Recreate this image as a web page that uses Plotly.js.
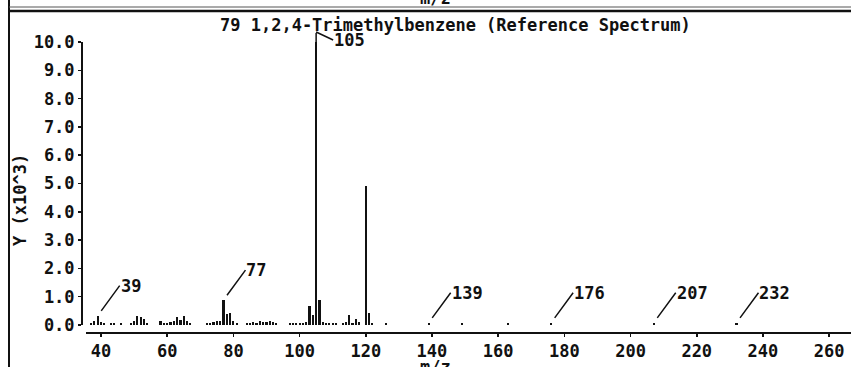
<!DOCTYPE html>
<html>
<head>
<meta charset="utf-8">
<script src="https://cdn.plot.ly/plotly-3.0.1.min.js"></script>
<style>html,body{margin:0;padding:0;background:#fff;}#chart{width:851px;height:367px;}</style>
</head>
<body>
<div id="chart"></div>
<script>
// m/z values of the peaks
const mz = [37,38,39,40,41,43,44,46,
  49,50,51,52,53,54,
  58,59,60,61,62,63,64,65,66,67,
  72,73,74,75,76,77,78,79,80,81,
  84,85,86,87,88,89,90,91,92,93,
  97,98,99,100,101,102,103,104,105,106,107,108,109,110,111,
  113,114,115,116,117,118,120,121,122,126,
  139,149,163,176,207,232];
// abundance (x10^3)
const abundance = [0.08,0.15,0.33,0.12,0.08,0.08,0.08,0.08,
  0.08,0.15,0.32,0.27,0.2,0.08,
  0.15,0.08,0.08,0.12,0.15,0.27,0.18,0.33,0.15,0.08,
  0.08,0.08,0.1,0.15,0.13,0.88,0.38,0.42,0.15,0.08,
  0.08,0.08,0.12,0.08,0.13,0.1,0.1,0.15,0.1,0.08,
  0.08,0.08,0.08,0.08,0.08,0.12,0.68,0.36,10.0,0.87,0.1,0.08,0.08,0.08,0.08,
  0.08,0.1,0.35,0.08,0.22,0.12,4.9,0.42,0.08,0.08,
  0.08,0.08,0.08,0.08,0.08,0.08];
// labelled peaks
const labelledMz = [39,77,139,176,207,232];
const basePeakMz = 105;
const yTickVals = [0,1,2,3,4,5,6,7,8,9,10];
const xTickVals = [40,60,80,100,120,140,160,180,200,220,240,260];
const titleText = "79 1,2,4-Trimethylbenzene (Reference Spectrum)";
const yTitle = "Y (x10^3)";
const xTitle = "m/z";

const FONT = {family: "'DejaVu Sans Mono', monospace", size: 17, color: '#111', weight: 'bold'};
const W = 851, H = 367, ML = 82, MR = 0, MT = 42, MB = 34;
const PW = W - ML - MR, PH = H - MT - MB;
const px = v => (v - ML) / PW;            // pixel x -> paper x
const py = v => 1 - (v - MT) / PH;        // pixel y -> paper y
const valueOf = m => abundance[mz.indexOf(m)];

const annotations = labelledMz.map(m => ({
  x: m, y: valueOf(m), xref: 'x', yref: 'y',
  text: String(m), showarrow: true, arrowhead: 0, arrowwidth: 1.5, arrowcolor: '#111',
  ax: 22, ay: -30, standoff: 6, xanchor: 'left', yanchor: 'middle',
  font: FONT, borderpad: 0
}));
// base peak leader: short vertical stub, then diagonal down to the label
annotations.push({
  x: basePeakMz, y: valueOf(basePeakMz), xref: 'x', yref: 'y', text: ' ',
  showarrow: true, arrowhead: 0, arrowwidth: 1.5, arrowcolor: '#111',
  ax: 0, ay: -10, standoff: 0, font: {size: 1}, borderpad: 0
});
annotations.push({
  x: basePeakMz, y: valueOf(basePeakMz), xref: 'x', yref: 'y', text: String(basePeakMz),
  showarrow: true, arrowhead: 0, arrowwidth: 1.5, arrowcolor: '#111',
  ax: 17, ay: 8, yshift: 10, standoff: 0, xanchor: 'left', yanchor: 'middle', font: FONT, borderpad: 0
});
annotations.push({x: px(455), y: py(25), xref: 'paper', yref: 'paper', text: titleText,
  showarrow: false, xanchor: 'center', yanchor: 'middle', font: FONT});
annotations.push({x: px(20), y: py(200), xref: 'paper', yref: 'paper', text: yTitle, textangle: -90,
  showarrow: false, xanchor: 'center', yanchor: 'middle', font: FONT});
annotations.push({x: px(435), y: py(367), xref: 'paper', yref: 'paper', text: xTitle,
  showarrow: false, xanchor: 'center', yanchor: 'middle', font: FONT});
annotations.push({x: px(435), y: py(-2), xref: 'paper', yref: 'paper', text: xTitle,
  showarrow: false, xanchor: 'center', yanchor: 'middle', font: FONT});

const shapes = [
  {type: 'line', xref: 'paper', yref: 'paper', x0: px(9), x1: px(9), y0: py(-5), y1: py(372), line: {color: '#111', width: 2}},
  {type: 'line', xref: 'paper', yref: 'paper', x0: px(9), x1: px(852), y0: py(7), y1: py(7), line: {color: '#555', width: 1}},
  {type: 'line', xref: 'paper', yref: 'paper', x0: px(9), x1: px(852), y0: py(11), y1: py(11), line: {color: '#111', width: 2.5}}
];

const data = [{
  type: 'bar', x: mz, y: abundance, width: 0.65,
  marker: {color: '#111', line: {width: 0}}, hoverinfo: 'x+y'
}];

const layout = {
  width: W, height: H,
  margin: {l: ML, r: MR, t: MT, b: MB, pad: 0},
  paper_bgcolor: '#fff', plot_bgcolor: '#fff',
  font: FONT, showlegend: false, bargap: 0,
  xaxis: {
    domain: [4 / PW, 1], range: [35.47, 266.6], anchor: 'free', position: 0,
    tickvals: xTickVals, ticktext: xTickVals.map(String),
    ticks: 'outside', ticklen: 3, tickwidth: 1.5, tickcolor: '#111',
    showline: true, linecolor: '#111', linewidth: 2, showgrid: false, zeroline: false,
    tickfont: FONT, fixedrange: true
  },
  yaxis: {
    domain: [8 / PH, 1], range: [0, 10], anchor: 'free', position: 0,
    tickvals: yTickVals, ticktext: yTickVals.map(v => v.toFixed(1)),
    ticks: 'outside', ticklen: 3, tickwidth: 1.5, tickcolor: '#111',
    showline: true, linecolor: '#111', linewidth: 2, showgrid: false, zeroline: false,
    tickfont: FONT, fixedrange: true
  },
  annotations: annotations,
  shapes: shapes
};

Plotly.newPlot('chart', data, layout, {displayModeBar: false, staticPlot: true});
</script>
</body>
</html>
